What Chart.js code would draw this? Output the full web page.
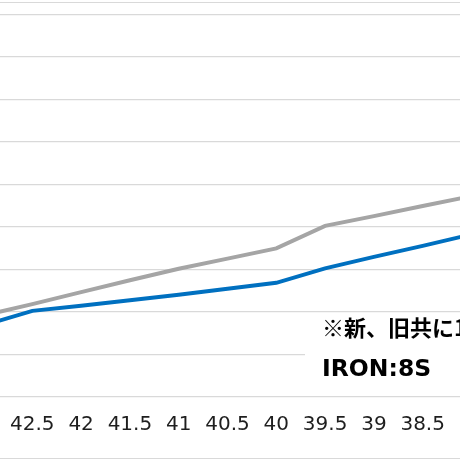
<!DOCTYPE html>
<html>
<head>
<meta charset="utf-8">
<script src="https://cdn.jsdelivr.net/npm/chart.js@4/dist/chart.umd.min.js"></script>
<style>
  html, body { margin: 0; padding: 0; background: #fff; overflow: hidden; }
  body { width: 460px; height: 460px; position: relative; }
  .frame { position: absolute; left: 0; right: 0; top: 2px; height: 455px;
           border-top: 1px solid #d9d9d9; border-bottom: 1px solid #d9d9d9; }
  .wrap { position: absolute; left: -45px; top: 0; width: 545px; height: 460px; }
  .note { position: absolute; left: 305px; top: 314px; width: 170px; height: 80px;
          background: #fff; color: #000; white-space: nowrap; }
  .note .jp { position: absolute; left: 17px; top: -4px; font: bold 22px "Noto Sans CJK JP", sans-serif; }
  .note .iron { position: absolute; left: 17px; top: 40px; font: bold 23.5px "DejaVu Sans", sans-serif; }
</style>
</head>
<body>
<div class="frame"></div>
<div class="wrap"><canvas id="chart"></canvas></div>
<div class="note">
  <div class="jp">※新、旧共に1本目</div>
  <div class="iron">IRON:8S</div>
</div>
<script>
// x categories (reversed, left to right)
const categories = ['43', '42.5', '42', '41.5', '41', '40.5', '40', '39.5', '39', '38.5', '38'];
// blue line
const seriesBlue = [116.8, 120.2, 121.4, 122.7, 124.0, 125.4, 126.8, 130.2, 132.9, 135.5, 138.2];
// gray line
const seriesGray = [119.1, 121.8, 124.6, 127.4, 130.1, 132.5, 134.9, 140.2, 142.5, 144.9, 147.2];
const yMin = 100, yMax = 190, yStep = 10;

document.addEventListener("DOMContentLoaded", function () {
    const ctx = document.getElementById('chart').getContext('2d');
    new Chart(ctx, {
        type: 'line',
        data: {
            labels: categories,
            datasets: [{
                label: '旧',
                data: seriesGray,
                borderColor: '#a5a5a5',
                borderWidth: 4,
                pointRadius: 0,
                tension: 0
            }, {
                label: '新',
                data: seriesBlue,
                borderColor: '#0070c0',
                borderWidth: 4,
                pointRadius: 0,
                tension: 0
            }]
        },
        options: {
            responsive: true,
            maintainAspectRatio: false,
            animation: false,
            layout: { padding: { top: 14.3, left: 0, right: 0, bottom: 0 } },
            plugins: {
                legend: { display: false },
                tooltip: { enabled: false }
            },
            scales: {
                x: {
                    offset: true,
                    grid: { display: false, drawTicks: false },
                    border: { display: false },
                    ticks: {
                        color: '#1e1e1e',
                        padding: 16,
                        maxRotation: 0,
                        autoSkip: false,
                        font: { family: 'DejaVu Sans', size: 20 }
                    },
                    afterFit: function (scale) { scale.height = 460 - 396.7; }
                },
                y: {
                    min: yMin,
                    max: yMax,
                    ticks: { display: false, stepSize: yStep },
                    grid: { color: '#d9d9d9', lineWidth: 1.3, drawTicks: false },
                    border: { display: false },
                    afterFit: function (scale) { scale.width = 0; }
                }
            }
        }
    });
});
</script>
</body>
</html>
